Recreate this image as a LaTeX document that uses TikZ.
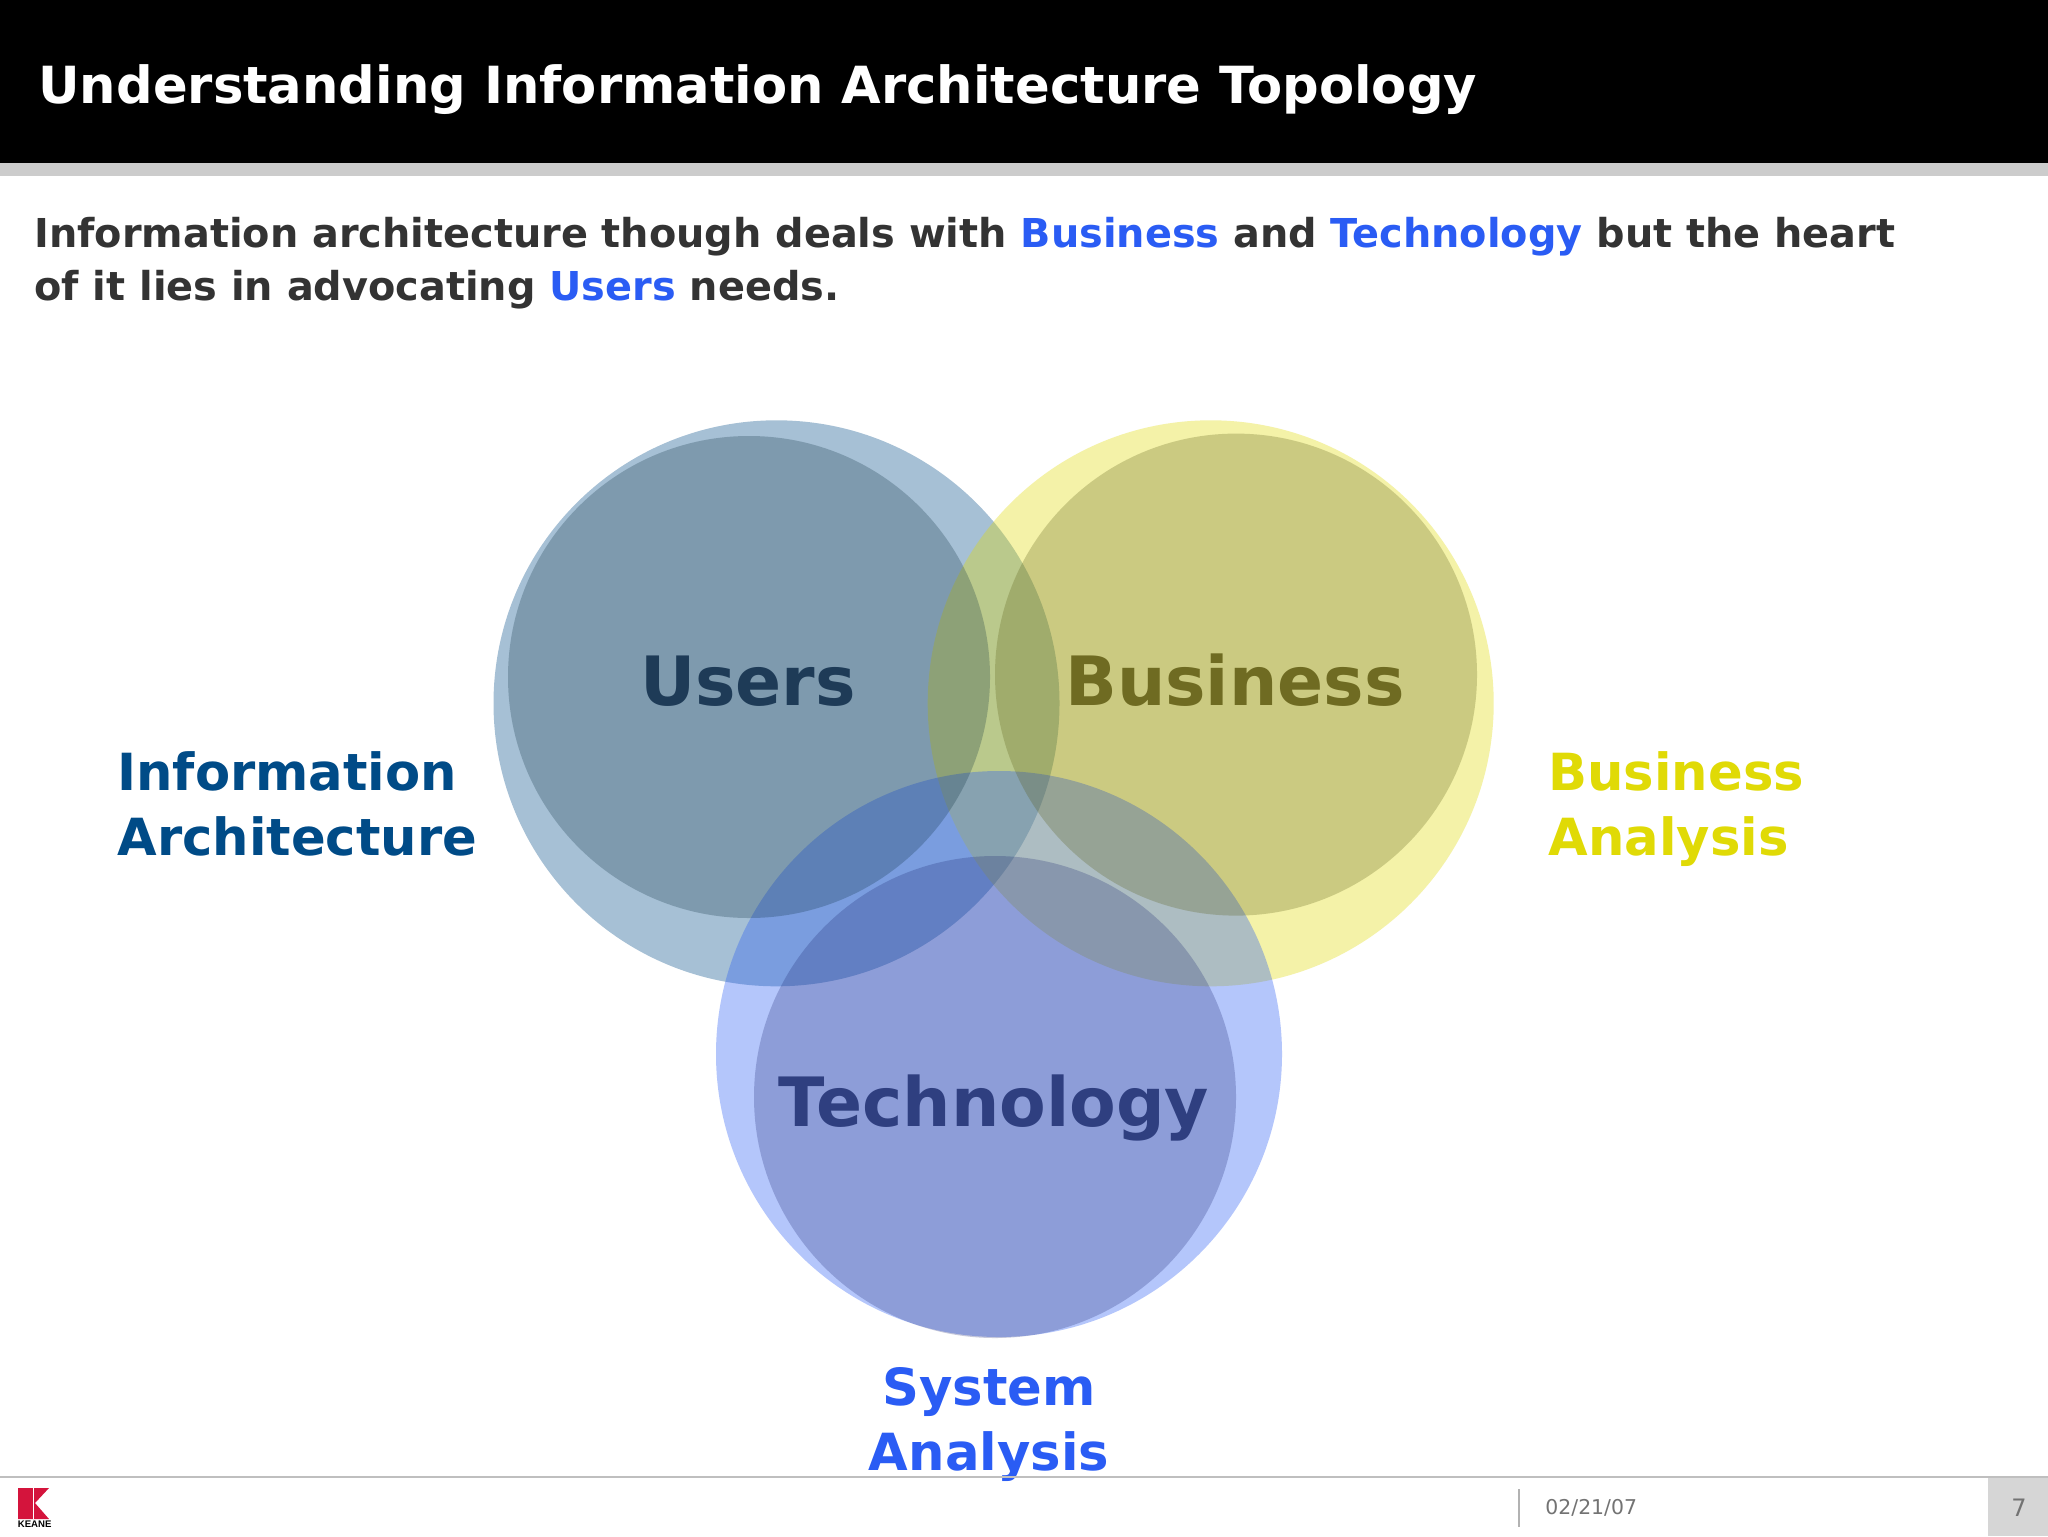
\documentclass[tikz,border=0pt]{standalone}
\usepackage{fontspec}
\setmainfont{DejaVu Sans}
\newfontfamily\logofont{Liberation Sans}
\definecolor{usersblue}{HTML}{004B87}
\definecolor{bizyellow}{HTML}{E0DA06}
\definecolor{techblue}{HTML}{2A5CF4}
\definecolor{usersdark}{HTML}{0A2C3C}
\definecolor{bizdark}{HTML}{545610}
\definecolor{techdark}{HTML}{1C2670}
\definecolor{userstext}{HTML}{1E3B57}
\definecolor{biztext}{HTML}{6F6B22}
\definecolor{techtext}{HTML}{2F3F80}
\definecolor{bodygrey}{HTML}{333333}
\definecolor{keanered}{HTML}{D4143C}
\tikzset{
    bigdisc/.style={fill=#1, fill opacity=0.35},
    smalldisc/.style={fill=#1, fill opacity=0.25},
    headline/.style={anchor=base west, inner sep=0pt, text=white, font=\bfseries\fontsize{25.6}{30}\selectfont},
    bodyline/.style={anchor=base west, inner sep=0pt, text=bodygrey, font=\bfseries\fontsize{19.9}{26}\selectfont},
    disctext/.style={anchor=base, inner sep=0pt, text=#1, font=\bfseries\fontsize{34}{40}\selectfont},
    sidetext/.style={anchor=base west, inner sep=0pt, text=#1, font=\bfseries\fontsize{25.6}{32.5}\selectfont},
    foottext/.style={anchor=base west, inner sep=0pt, text=black!55, font=\fontsize{#1}{12}\selectfont}
}
\begin{document}
\begin{tikzpicture}[x=0.5pt, y=-0.5pt]
    \useasboundingbox (0,0) rectangle (2048,1536);
    \fill[white] (0,0) rectangle (2048,1536);
    \fill[black] (0,0) rectangle (2048,163);
    \fill[black!20] (0,163) rectangle (2048,176);
    \node[headline] (title) at (38,104) {Understanding Information Architecture Topology};
    \node[bodyline] (bodyone) at (34,247) {Information architecture though deals with \textcolor{techblue}{Business} and \textcolor{techblue}{Technology} but the heart};
    \node[bodyline] (bodytwo) at (34,300) {of it lies in advocating \textcolor{techblue}{Users} needs.};
    \coordinate (usersbig) at (776.5,703.3);
    \coordinate (bizbig) at (1210.7,703.3);
    \coordinate (techbig) at (999,1054);
    \coordinate (userssmall) at (749,677);
    \coordinate (bizsmall) at (1236,674.6);
    \coordinate (techsmall) at (995,1097);
    \fill[bigdisc=usersblue] (usersbig) circle (283);
    \fill[bigdisc=bizyellow] (bizbig) circle (283);
    \fill[bigdisc=techblue] (techbig) circle (283);
    \fill[smalldisc=usersdark] (userssmall) circle (241);
    \fill[smalldisc=bizdark] (bizsmall) circle (241);
    \fill[smalldisc=techdark] (techsmall) circle (241);
    \node[disctext=userstext] (users) at (748,705) {Users};
    \node[disctext=biztext] (business) at (1235,705) {Business};
    \node[disctext=techtext] (technology) at (994,1126) {Technology};
    \node[sidetext=usersblue] (infoarch) at (117,790) {Information};
    \node[sidetext=usersblue] (infoarchb) at (117,855) {Architecture};
    \node[sidetext=bizyellow] (bizanal) at (1548,790) {Business};
    \node[sidetext=bizyellow] (bizanalb) at (1548,855) {Analysis};
    \node[sidetext=techblue, anchor=base] (sysanal) at (989,1405) {System};
    \node[sidetext=techblue, anchor=base] (sysanalb) at (989,1470) {Analysis};
    \draw[black!25, line width=1pt] (0,1477) -- (2048,1477);
    \fill[black!16] (1988,1478) rectangle (2048,1536);
    \draw[black!30, line width=0.7pt] (1519,1489) -- (1519,1527);
    \node[foottext=10.2] (date) at (1545,1514) {02/21/07};
    \node[foottext=12] (page) at (2011,1516) {7};
    \fill[keanered] (18,1488) -- (49,1488) -- (35,1503) -- (49,1519) -- (18,1519) -- cycle;
    \draw[white, line width=0.4pt] (33,1488) -- (33,1519);
    \node[anchor=base west, inner sep=0pt, font=\logofont\bfseries\fontsize{4.8}{5}\selectfont] (logo) at (17.5,1527) {KEANE};
\end{tikzpicture}
\end{document}
